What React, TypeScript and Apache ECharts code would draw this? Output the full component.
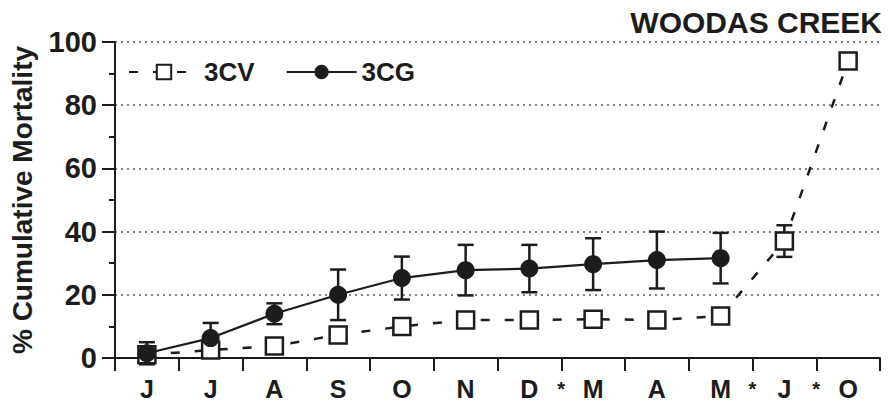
import React, { useEffect, useRef } from "react";
import * as echarts from "echarts";

// Sampling months, June through the following October
const months = ["J", "J", "A", "S", "O", "N", "D", "M", "A", "M", "J", "O"];
// Boundary marks between months (13 tick positions); * flags a break in sampling
const breakMarks = ["", "", "", "", "", "", "", "*", "", "", "*", "*", ""];

// 3CV: cumulative mortality (%) and error
const cvMean = [1, 2.5, 3.8, 7.3, 10, 12, 12, 12.3, 12, 13.3, 37, 94];
const cvErr = [1, 1, 1, 1.5, 1.5, 2, 2, 2.5, 2, 1.5, 5, 0];

// 3CG: cumulative mortality (%) and error
const cgMean = [1.5, 6.3, 14, 20, 25.3, 27.8, 28.3, 29.7, 31, 31.6, null, null];
const cgErr = [3.5, 4.8, 3.3, 8, 6.8, 8, 7.5, 8.2, 9, 8, null, null];

const INK = "#1c1c1c";
const FONT = "'Liberation Sans', Arial, Helvetica, sans-serif";

function errorRows(mean: (number | null)[], err: (number | null)[]) {
  const rows: number[][] = [];
  mean.forEach((m, i) => {
    const e = err[i];
    if (m == null || e == null || e === 0) return;
    rows.push([i, m - e, m + e]);
  });
  return rows;
}

function errorBarRenderer(capHalf: number) {
  return (params: any, api: any) => {
    const x = api.value(0);
    const top = api.coord([x, api.value(2)]);
    const bot = api.coord([x, api.value(1)]);
    const style = { stroke: INK, lineWidth: 2.5 };
    return {
      type: "group",
      children: [
        { type: "line", shape: { x1: top[0], y1: top[1], x2: bot[0], y2: bot[1] }, style },
        { type: "line", shape: { x1: top[0] - capHalf, y1: top[1], x2: top[0] + capHalf, y2: top[1] }, style },
        { type: "line", shape: { x1: bot[0] - capHalf, y1: bot[1], x2: bot[0] + capHalf, y2: bot[1] }, style },
      ],
    };
  };
}

export default function App() {
  const ref = useRef<HTMLDivElement>(null);

  useEffect(() => {
    if (!ref.current) return;
    const chart = echarts.init(ref.current, undefined, { renderer: "svg" });
    chart.setOption({
      animation: false,
      backgroundColor: "#ffffff",
      textStyle: { fontFamily: FONT, color: INK },
      title: {
        text: "WOODAS CREEK",
        right: 1,
        top: 2,
        textStyle: { fontFamily: FONT, fontWeight: "bold", fontSize: 30, color: INK },
      },
      legend: {
        data: ["3CV", "3CG"],
        left: 123,
        top: 54,
        itemWidth: 70,
        itemHeight: 18,
        itemGap: 31,
        textStyle: { fontFamily: FONT, fontWeight: "bold", fontSize: 26, color: INK },
      },
      grid: { left: 113, right: 8, top: 42, bottom: 46 },
      xAxis: [
        {
          type: "category",
          data: months,
          boundaryGap: true,
          position: "bottom",
          axisLine: { lineStyle: { color: INK, width: 2 } },
          axisTick: { show: true, length: 13, lineStyle: { color: INK, width: 2 } },
          axisLabel: {
            margin: 18,
            fontFamily: FONT,
            fontWeight: "bold",
            fontSize: 25,
            color: INK,
          },
          splitLine: { show: false },
        },
        {
          type: "category",
          data: breakMarks,
          boundaryGap: false,
          position: "bottom",
          axisLine: { show: false },
          axisTick: { show: false },
          axisLabel: {
            interval: 0,
            margin: 21,
            fontFamily: FONT,
            fontWeight: "bold",
            fontSize: 20,
            color: INK,
          },
          splitLine: { show: false },
        },
      ],
      yAxis: {
        type: "value",
        min: 0,
        max: 100,
        interval: 20,
        name: "% Cumulative Mortality",
        nameLocation: "middle",
        nameGap: 79,
        nameTextStyle: { fontFamily: FONT, fontWeight: "bold", fontSize: 28, color: INK },
        axisLine: { show: true, lineStyle: { color: INK, width: 2 } },
        axisTick: { show: true, length: 13, lineStyle: { color: INK, width: 2 } },
        minorTick: { show: true, splitNumber: 2, length: 6, lineStyle: { color: INK, width: 2 } },
        axisLabel: {
          margin: 18,
          fontFamily: FONT,
          fontWeight: "bold",
          fontSize: 29,
          color: INK,
        },
        splitLine: { show: true, lineStyle: { color: "#555", width: 1.5, type: [2, 4] } },
      },
      series: [
        {
          name: "3CV-err",
          type: "custom",
          z: 1,
          xAxisIndex: 0,
          renderItem: errorBarRenderer(8),
          encode: { x: 0, y: [1, 2] },
          data: errorRows(cvMean, cvErr),
          silent: true,
        },
        {
          name: "3CG-err",
          type: "custom",
          z: 1,
          xAxisIndex: 0,
          renderItem: errorBarRenderer(8),
          encode: { x: 0, y: [1, 2] },
          data: errorRows(cgMean, cgErr),
          silent: true,
        },
        {
          name: "3CV",
          type: "line",
          z: 3,
          xAxisIndex: 0,
          data: cvMean,
          symbol: "rect",
          symbolSize: 17,
          showAllSymbol: true,
          lineStyle: { color: INK, width: 2.5, type: [9, 15] },
          itemStyle: { color: "#ffffff", borderColor: INK, borderWidth: 2.5 },
        },
        {
          name: "3CG",
          type: "line",
          z: 4,
          xAxisIndex: 0,
          data: cgMean,
          symbol: "circle",
          symbolSize: 18,
          showAllSymbol: true,
          connectNulls: false,
          lineStyle: { color: INK, width: 2.2, type: "solid" },
          itemStyle: { color: INK, borderColor: INK, borderWidth: 0 },
        },
      ],
    });
    return () => chart.dispose();
  }, []);

  return (
    <div
      ref={ref}
      style={{ position: "absolute", left: 0, top: 0, width: 888, height: 404 }}
    />
  );
}
